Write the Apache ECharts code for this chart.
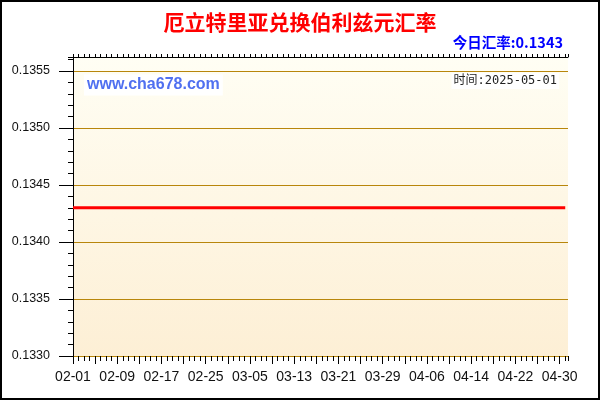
<!DOCTYPE html>
<html><head><meta charset="utf-8">
<script src="https://cdn.jsdelivr.net/npm/echarts@6/dist/echarts.min.js"></script>
<style>html,body{margin:0;padding:0;background:#fff}#c{width:600px;height:400px}</style>
</head><body><div id="c"></div>
<script>
const titleText = '厄立特里亚兑换伯利兹元汇率';
const todayText = '今日汇率:0.1343';
const timeText = '时间:2025-05-01';
const watermarkText = 'www.cha678.com';

const dates = [
'02-01','02-02','02-03','02-04','02-05','02-06','02-07','02-08','02-09','02-10',
'02-11','02-12','02-13','02-14','02-15','02-16','02-17','02-18','02-19','02-20',
'02-21','02-22','02-23','02-24','02-25','02-26','02-27','02-28',
'03-01','03-02','03-03','03-04','03-05','03-06','03-07','03-08','03-09','03-10',
'03-11','03-12','03-13','03-14','03-15','03-16','03-17','03-18','03-19','03-20',
'03-21','03-22','03-23','03-24','03-25','03-26','03-27','03-28','03-29','03-30','03-31',
'04-01','04-02','04-03','04-04','04-05','04-06','04-07','04-08','04-09','04-10',
'04-11','04-12','04-13','04-14','04-15','04-16','04-17','04-18','04-19','04-20',
'04-21','04-22','04-23','04-24','04-25','04-26','04-27','04-28','04-29','04-30',
'05-01'
];

const rates = [
0.1343,0.1343,0.1343,0.1343,0.1343,0.1343,0.1343,0.1343,0.1343,0.1343,
0.1343,0.1343,0.1343,0.1343,0.1343,0.1343,0.1343,0.1343,0.1343,0.1343,
0.1343,0.1343,0.1343,0.1343,0.1343,0.1343,0.1343,0.1343,
0.1343,0.1343,0.1343,0.1343,0.1343,0.1343,0.1343,0.1343,0.1343,0.1343,
0.1343,0.1343,0.1343,0.1343,0.1343,0.1343,0.1343,0.1343,0.1343,0.1343,
0.1343,0.1343,0.1343,0.1343,0.1343,0.1343,0.1343,0.1343,0.1343,0.1343,0.1343,
0.1343,0.1343,0.1343,0.1343,0.1343,0.1343,0.1343,0.1343,0.1343,0.1343,
0.1343,0.1343,0.1343,0.1343,0.1343,0.1343,0.1343,0.1343,0.1343,0.1343,
0.1343,0.1343,0.1343,0.1343,0.1343,0.1343,0.1343,0.1343,0.1343,0.1343,
0.1343
];

const xTickLabels = ['02-01','02-09','02-17','02-25','03-05','03-13','03-21','03-29','04-06','04-14','04-22','04-30'];
const yTickLabels = ['0.1330','0.1335','0.1340','0.1345','0.1350','0.1355'];

const chart = echarts.init(document.getElementById('c'));
const GOLD = '#B8860B';
const seriesData = dates.map((d, i) => [i, rates[i]]);
const X_MAX = 89.5;
const Y_MIN = 0.1330, Y_MAX = 0.135623;

chart.setOption({
  animation: false,
  grid: {
    left: 73, right: 32, top: 57, bottom: 44, show: true, borderWidth: 0,
    backgroundColor: new echarts.graphic.LinearGradient(0, 0, 0, 1, [
      {offset: 0, color: '#FFFEF4'}, {offset: 1, color: '#FDEFD5'}
    ])
  },
  xAxis: [
    {
      type: 'value', position: 'bottom', min: 0, max: X_MAX, interval: 4,
      axisLine: {show: true, lineStyle: {color: GOLD, width: 1}},
      axisTick: {show: true, length: 8, lineStyle: {color: '#000'}},
      axisLabel: {
        margin: 14, fontSize: 14, color: '#111', fontFamily: '"Liberation Sans", Arial, sans-serif',
        showMaxLabel: false,
        formatter: v => (Number.isInteger(v) && xTickLabels.indexOf(dates[v]) >= 0) ? dates[v] : ''
      },
      splitLine: {show: false}
    },
    {
      type: 'value', position: 'bottom', min: 0, max: X_MAX, interval: 1,
      axisLine: {show: false},
      axisTick: {show: true, length: 5, lineStyle: {color: '#000'}},
      axisLabel: {show: false}, splitLine: {show: false}
    },
    {
      type: 'value', position: 'top', min: 0, max: X_MAX, interval: 1,
      axisLine: {show: true, lineStyle: {color: '#000'}},
      axisTick: {show: true, length: 3, lineStyle: {color: '#000'}},
      axisLabel: {show: false}, splitLine: {show: false}
    }
  ],
  yAxis: [
    {
      type: 'value', position: 'left', min: Y_MIN, max: Y_MAX, interval: 0.0005,
      axisLine: {show: true, lineStyle: {color: '#000'}},
      axisTick: {show: true, length: 14, lineStyle: {color: '#000'}},
      axisLabel: {
        margin: 23, fontSize: 12.5, color: '#111', fontFamily: '"Liberation Sans", Arial, sans-serif',
        showMaxLabel: false,
        formatter: v => {
          const s = v.toFixed(4);
          return yTickLabels.indexOf(s) >= 0 ? s : '';
        }
      },
      splitLine: {show: true, lineStyle: {color: GOLD, width: 1}}
    },
    {
      type: 'value', position: 'left', min: Y_MIN, max: Y_MAX, interval: 0.0001,
      axisLine: {show: false},
      axisTick: {show: true, length: 5, lineStyle: {color: '#000'}},
      axisLabel: {show: false}, splitLine: {show: false}
    },
    {
      type: 'value', position: 'right', min: Y_MIN, max: Y_MAX, interval: 0.0001,
      axisLine: {show: true, lineStyle: {color: '#000'}},
      axisTick: {show: true, inside: true, length: 3, lineStyle: {color: '#000'}},
      axisLabel: {show: false}, splitLine: {show: false}
    }
  ],
  series: [{
    type: 'line', xAxisIndex: 0, yAxisIndex: 0, data: seriesData,
    symbol: 'none', lineStyle: {color: '#FF0000', width: 3}, z: 5
  }],
  graphic: [
    {type: 'rect', z: 200, silent: true, shape: {x: 1, y: 1, width: 598, height: 398},
     style: {fill: 'none', stroke: '#000', lineWidth: 2}},
    {type: 'text', z: 200, x: 300, y: 22, style: {
      text: titleText, fill: '#FF0000', align: 'center', verticalAlign: 'middle',
      font: 'bold 21px "Noto Sans CJK SC", sans-serif'}},
    {type: 'text', z: 200, x: 563, y: 42, style: {
      text: todayText, fill: '#0000FF', align: 'right', verticalAlign: 'middle',
      font: 'bold 14.5px "Noto Sans CJK SC", sans-serif'}},
    {type: 'text', z: 200, x: 84, y: 85, style: {
      text: watermarkText, fill: '#5070F0', align: 'left', verticalAlign: 'middle',
      font: 'bold 16px "Liberation Sans", Arial, sans-serif',
      backgroundColor: '#FFFFFF', padding: [3, 3, 2, 3]}},
    {type: 'text', z: 200, x: 559, y: 81, style: {
      text: timeText, fill: '#222', align: 'right', verticalAlign: 'middle',
      font: '12px "DejaVu Sans Mono", "Noto Sans CJK SC", monospace',
      backgroundColor: '#FFFFFF', padding: [2, 2, 2, 2]}}
  ]
});
</script>
</body></html>
